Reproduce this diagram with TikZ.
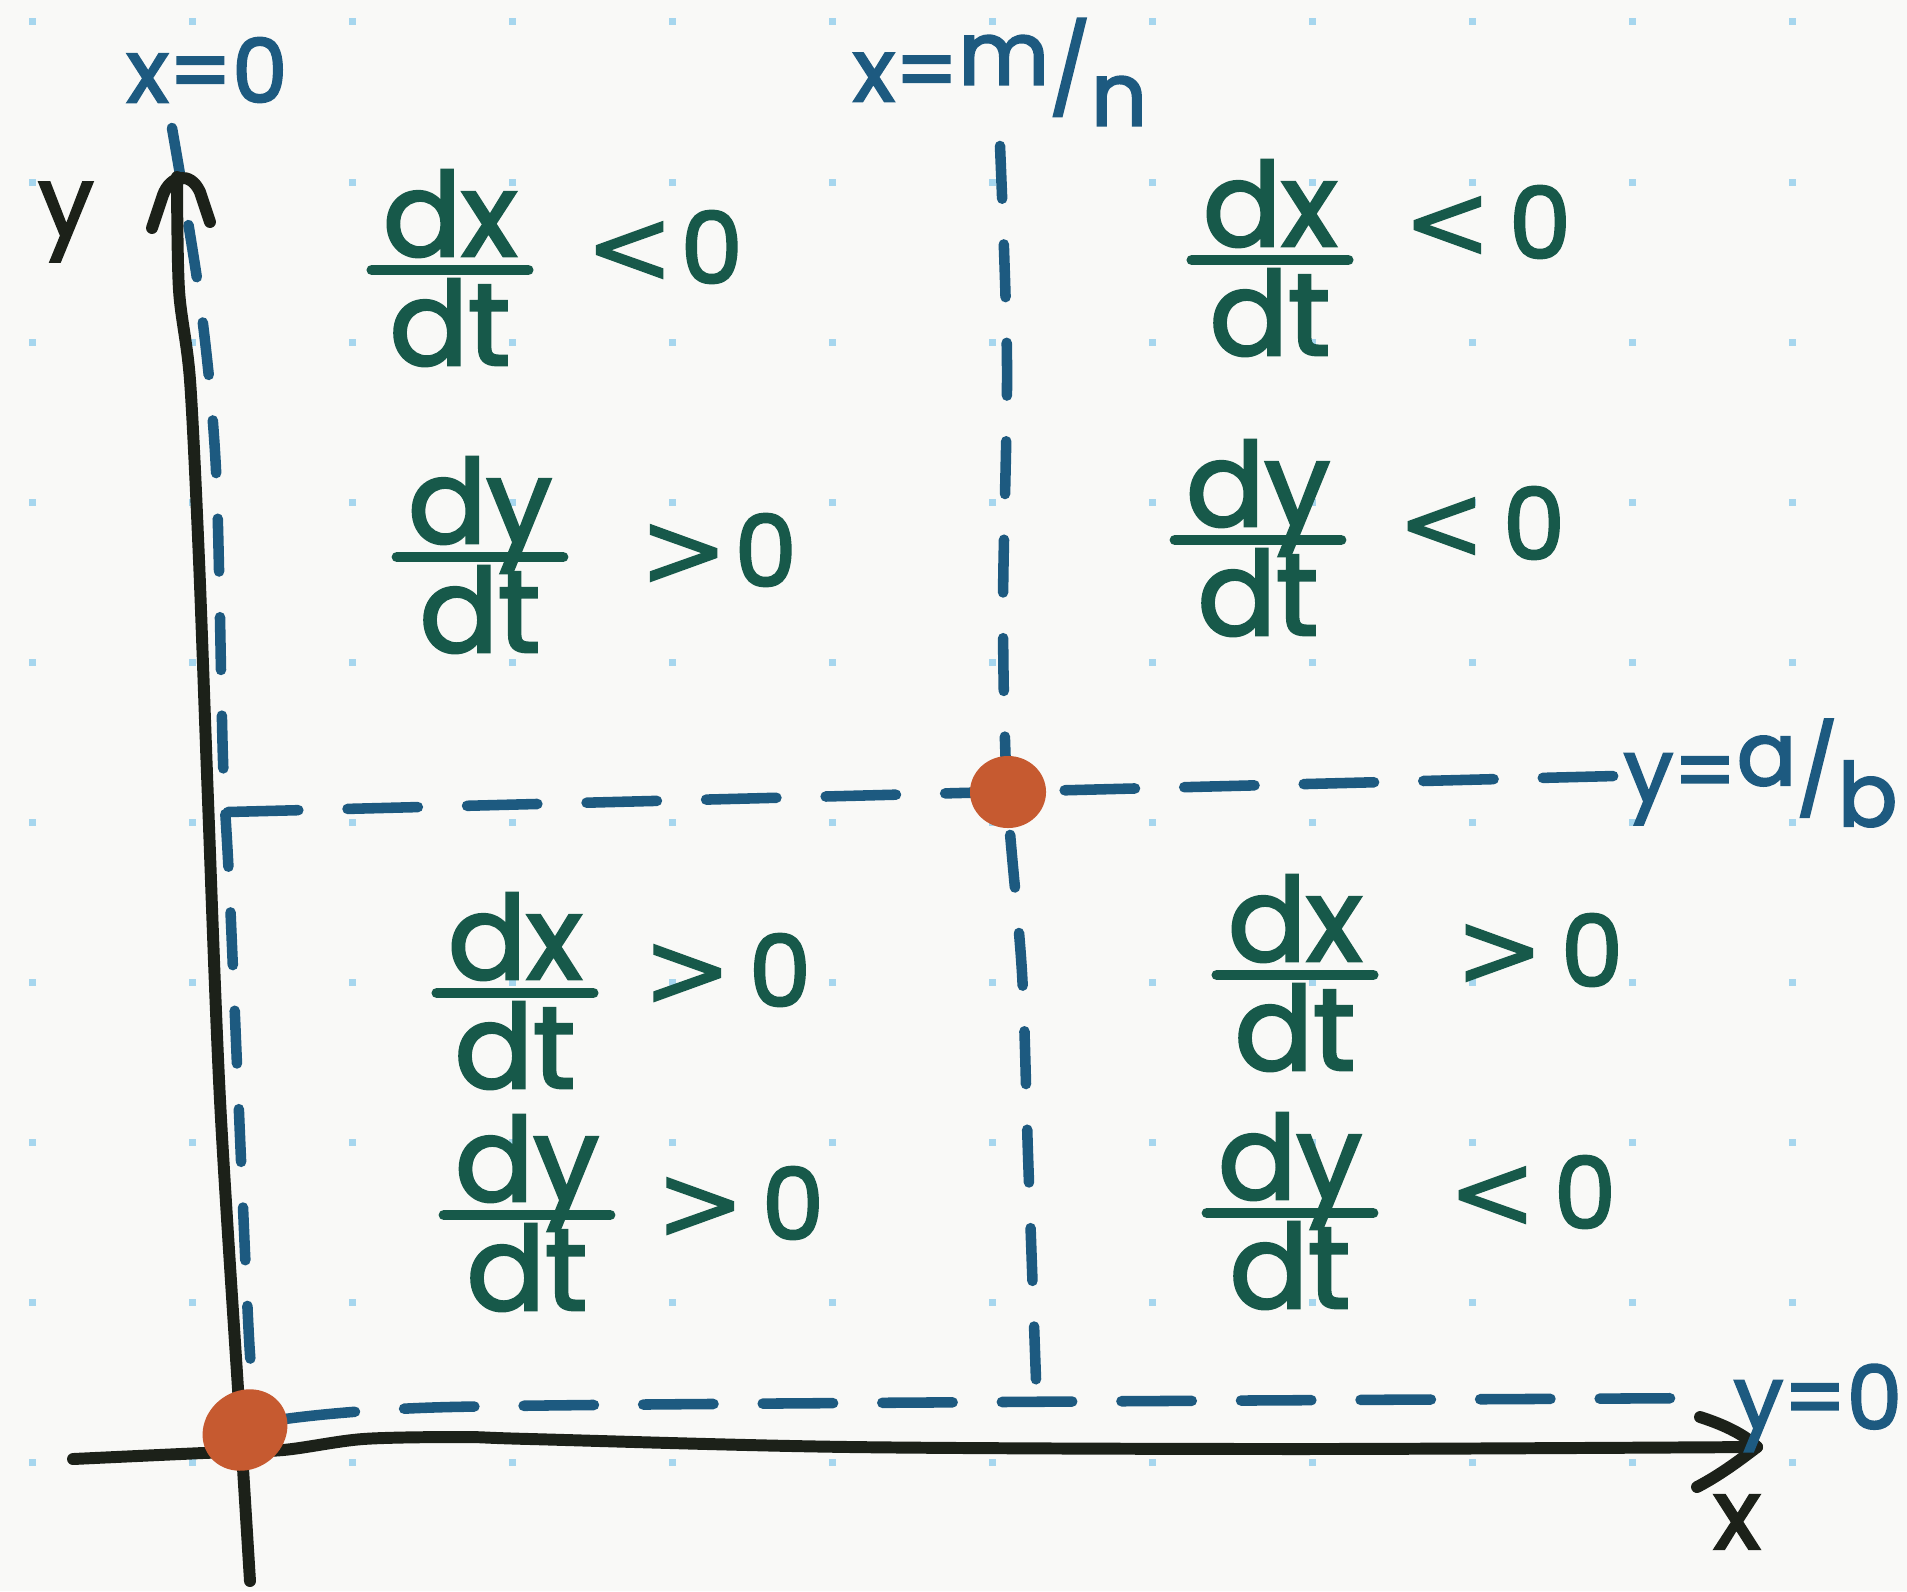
\documentclass[tikz,border=0pt]{standalone}
\usepackage{fontspec}
\setmainfont{Poppins}
\newfontfamily\handfont{Poppins}[FakeBold=2.5]
\newfontfamily\relfont{DejaVu Sans}[FakeBold=1.5]
\usetikzlibrary{calc,shapes.geometric}
\definecolor{bg}{HTML}{F9F9F7}
\definecolor{griddot}{HTML}{A6D6EE}
\definecolor{ink}{HTML}{1C2119}
\definecolor{nb}{HTML}{1D5A80}
\definecolor{gr}{HTML}{17594A}
\definecolor{og}{HTML}{C65A30}
\tikzset{
  axisline/.style={ink, line width=3.4pt, line cap=round, line join=round},
  nullv/.style={nb, line width=3pt, line cap=round, dash pattern=on 15pt off 13pt},
  nullh/.style={nb, line width=3pt, line cap=round, dash pattern=on 20pt off 14pt},
  fixpt/.style={ellipse, fill=og, draw=none, inner sep=0pt},
  fnum/.style={gr, inner sep=0pt, font=\handfont\fontsize{33}{40}\selectfont},
  fbar/.style={gr, line width=3pt, line cap=round},
  rel/.style={gr, inner sep=0pt, font=\handfont\fontsize{28}{34}\selectfont},
  bluelab/.style={nb, inner sep=0pt, font=\handfont\fontsize{25}{30}\selectfont},
  blacklab/.style={ink, inner sep=0pt, font=\handfont\fontsize{28}{32}\selectfont},
}
\newcommand\ratefrac[4]{%
  \coordinate (#1) at (#2,#3);
  \node[fnum, anchor=base] (#1n) at ([yshift=4pt]#1) {d#4};
  \node[fnum, anchor=base] (#1d) at ([yshift=-27pt]#1) {dt};
  \draw[fbar] ([xshift=-3pt]#1n.west |- #1) -- ([xshift=3pt]#1n.east |- #1);
}
\newcommand\relsym[1]{{\relfont\fontsize{30}{34}\selectfont #1}}
\newcommand\slfrac[2]{\raisebox{0.35ex}{#1}/\raisebox{-0.5ex}{#2}}
\begin{document}
\begin{tikzpicture}[x=0.01cm,y=-0.01cm]
% background and dot grid
\fill[bg] (0,0) rectangle (1907,1591);
\useasboundingbox (0,0) rectangle (1907,1591);
\foreach \i in {0,...,11}{
  \foreach \j in {0,...,9}{
    \fill[griddot] ({32+160*\i-3.5},{22+160*\j-3.5}) rectangle ++(7,7);
  }
}
% nullclines (dashed)
\coordinate (x0top) at (172,128);
\coordinate (x0bot) at (257,1395);
\draw[nullv] plot[smooth] coordinates {(x0top) (200,300) (216,470) (223,760) (230,900) (249,1338) (x0bot)};
\coordinate (xmtop) at (1000,146);
\coordinate (xmbot) at (1036,1380);
\draw[nullv] plot[smooth] coordinates {(xmtop) (1007,365) (1003,608) (1007,791) (1022,973) (1028,1155) (xmbot)};
\coordinate (yab0) at (228,812);
\coordinate (yab1) at (1615,776);
\draw[nullh] (yab0) -- (yab1);
\coordinate (y00) at (285,1419);
\coordinate (y01) at (1718,1398);
\draw[nullh] plot[smooth] coordinates {(y00) (450,1407) (1000,1402) (y01)};
% axes
\coordinate (ytip) at (177,177);
\coordinate (ybot) at (250,1581);
\draw[axisline] plot[smooth] coordinates {(ytip) (179,290) (190,380) (199,560) (208,800) (220,1100) (240,1420) (ybot)};
\draw[axisline] (152,228) -- (163,195) .. controls (170,176) and (190,170) .. (200,192) -- (210,222);
\coordinate (xleft) at (73,1459);
\coordinate (xtip) at (1757,1447);
\draw[axisline] plot[smooth] coordinates {(xleft) (203,1453) (283,1450) (363,1439) (463,1437) (530,1439) (850,1447) (1300,1449) (xtip)};
\draw[axisline] (1700,1417) .. controls (1725,1425) and (1745,1435) .. (xtip) .. controls (1740,1460) and (1720,1475) .. (1697,1487);
% fixed points
\node[fixpt, minimum width=0.88cm, minimum height=0.78cm, rotate=35] (origin) at (245,1430) {};
\node[fixpt, minimum width=0.76cm, minimum height=0.72cm] (eq) at (1008,792) {};
% labels
\node[bluelab] (lx0) at (207,70) {x=0};
\node[bluelab] (lxm) at (1000,72) {x=\slfrac{m}{n}};
\node[bluelab, anchor=west] (lyab) at (1623,773) {y=\slfrac{a}{b}};
\node[bluelab, anchor=west] (ly0) at (1733,1408) {y=0};
\node[blacklab] (laxy) at (66,222) {y};
\node[blacklab] (laxx) at (1737,1522) {x};
% region labels
\ratefrac{tla}{450}{270}{x}
\node[rel] (tlar) at (664,247) {\relsym{<}\hspace{2pt}0};
\ratefrac{tlb}{480}{557}{y}
\node[rel] (tlbr) at (718,550) {\relsym{>}\hspace{2pt}0};
\ratefrac{tra}{1270}{260}{x}
\node[rel] (trar) at (1487,222) {\relsym{<}\hspace{5pt}0};
\ratefrac{trb}{1258}{540}{y}
\node[rel] (trbr) at (1481,523) {\relsym{<}\hspace{5pt}0};
\ratefrac{bla}{515}{993}{x}
\node[rel] (blar) at (727,970) {\relsym{>}\hspace{5pt}0};
\ratefrac{blb}{527}{1215}{y}
\node[rel] (blbr) at (740,1203) {\relsym{>}\hspace{5pt}0};
\ratefrac{bra}{1295}{975}{x}
\node[rel] (brar) at (1539,950) {\relsym{>}\hspace{5pt}0};
\ratefrac{brb}{1290}{1213}{y}
\node[rel] (brbr) at (1532,1192) {\relsym{<}\hspace{5pt}0};
\end{tikzpicture}
\end{document}
